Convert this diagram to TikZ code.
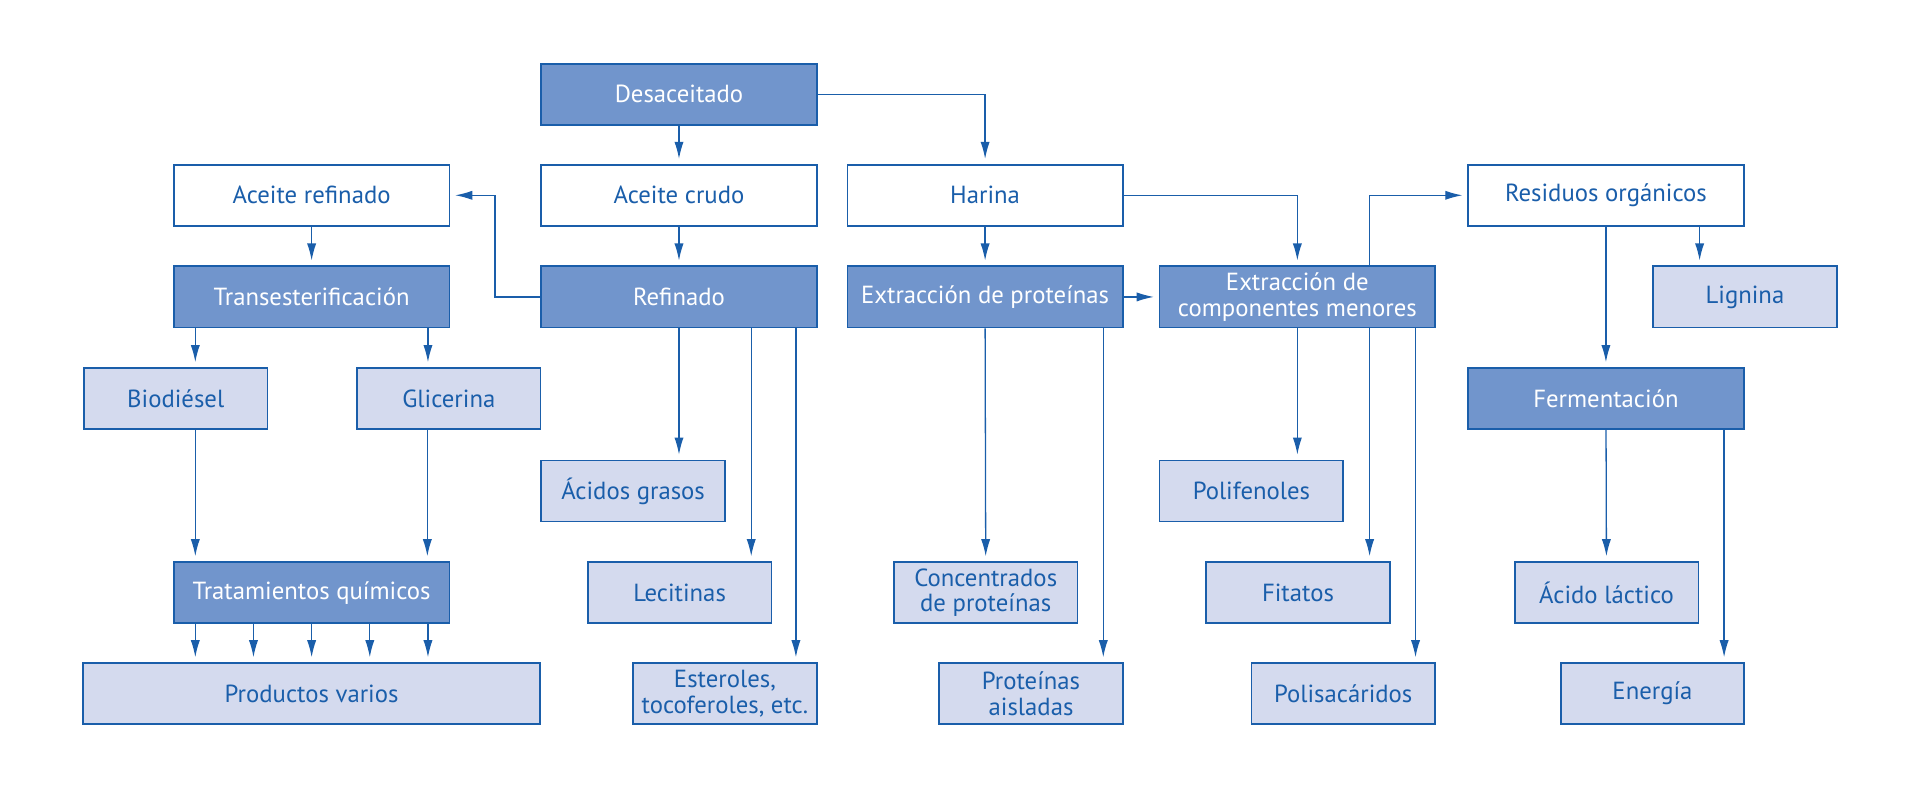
\documentclass[tikz,border=0pt]{standalone}
\usepackage{fontspec}
\setmainfont{PT Sans}
\usepackage{tikz}
\usetikzlibrary{arrows.meta, positioning, calc}
\definecolor{LineBlue}{HTML}{1A5EAA}
\definecolor{ProcBlue}{HTML}{7195CC}
\definecolor{ProdBlue}{HTML}{D4DAEE}
\tikzset{
  box/.style={draw=LineBlue, line width=0.8pt, minimum height=1cm, inner sep=2pt,
              align=center, font=\fontsize{11.5}{12}\selectfont},
  procbox/.style={box, fill=ProcBlue, text=white, minimum width=4.5cm},
  whitebox/.style={box, fill=white, text=LineBlue, minimum width=4.5cm},
  prodbox/.style={box, fill=ProdBlue, text=LineBlue, minimum width=3cm},
  arr/.style={draw=LineBlue, line width=0.6pt, shorten >=0.8mm,
              -{Latex[length=2.8mm,width=1.5mm]}}
}

\begin{document}
\begin{tikzpicture}
    \useasboundingbox (0,0) rectangle (31.36,-13.06);

    % Processes and intermediate products
    \node[procbox]  (desac)    at (11.09,-1.54) {Desaceitado};
    \node[whitebox] (arefin)   at (5.09,-3.19)  {Aceite refinado};
    \node[whitebox] (crudo)    at (11.09,-3.19) {Aceite crudo};
    \node[whitebox] (harina)   at (16.09,-3.19) {Harina};
    \node[whitebox] (residuos) at (26.23,-3.19) {Residuos orgánicos};
    \node[procbox]  (trans)    at (5.09,-4.85)  {Transesterificación};
    \node[procbox]  (refinado) at (11.09,-4.85) {Refinado};
    \node[procbox]  (extprot)  at (16.09,-4.85) {Extracción de proteínas};
    \node[procbox]  (extcomp)  at (21.19,-4.85) {Extracción de\\componentes menores};
    \node[procbox]  (ferment)  at (26.23,-6.51) {Fermentación};
    \node[procbox]  (tratam)   at (5.09,-9.68)  {Tratamientos químicos};

    % Final products
    \node[prodbox] (biodiesel) at (2.87,-6.51)  {Biodiésel};
    \node[prodbox] (glicerina) at (7.33,-6.51)  {Glicerina};
    \node[prodbox] (lignina)   at (28.5,-4.85)  {Lignina};
    \node[prodbox] (acidos)    at (10.34,-8.02) {Ácidos grasos};
    \node[prodbox] (polifen)   at (20.44,-8.02) {Polifenoles};
    \node[prodbox] (lecitinas) at (11.1,-9.68)  {Lecitinas};
    \node[prodbox] (concent)   at (16.1,-9.68)  {Concentrados\\de proteínas};
    \node[prodbox] (fitatos)   at (21.2,-9.68)  {Fitatos};
    \node[prodbox] (lactico)   at (26.24,-9.68) {Ácido láctico};
    \node[prodbox, minimum width=7.46cm] (productos) at (5.09,-11.33) {Productos varios};
    \node[prodbox] (esteroles) at (11.84,-11.33) {Esteroles,\\tocoferoles, etc.};
    \node[prodbox] (aisladas)  at (16.84,-11.33) {Proteínas\\aisladas};
    \node[prodbox] (polisac)   at (21.94,-11.33) {Polisacáridos};
    \node[prodbox] (energia)   at (26.99,-11.33) {Energía};

    % Oil branch
    \draw[arr] (desac) -- (crudo);
    \draw[arr] (desac.east) -| (harina);
    \draw[arr] (crudo) -- (refinado);
    \draw[arr] (refinado.west) -- ++(-0.74,0) |- (arefin.east);
    \draw[arr] (arefin) -- (trans);
    \draw[arr] ([xshift=-1.9cm]trans.south) -- ([xshift=-1.9cm]trans.south |- biodiesel.north);
    \draw[arr] ([xshift=1.9cm]trans.south) -- ([xshift=1.9cm]trans.south |- glicerina.north);
    \draw[arr] ([xshift=0.32cm]biodiesel.south) -- ([xshift=0.32cm]biodiesel.south |- tratam.north);
    \draw[arr] ([xshift=-0.35cm]glicerina.south) -- ([xshift=-0.35cm]glicerina.south |- tratam.north);
    \foreach \dx in {-1.9,-0.95,0,0.95,1.9}
        \draw[arr] ([xshift=\dx cm]tratam.south) -- ([xshift=\dx cm]tratam.south |- productos.north);
    \draw[arr] (refinado.south) -- (refinado.south |- acidos.north);
    \draw[arr] ([xshift=1.18cm]refinado.south) -- ([xshift=1.18cm]refinado.south |- lecitinas.north);
    \draw[arr] ([xshift=1.91cm]refinado.south) -- ([xshift=1.91cm]refinado.south |- esteroles.north);

    % Meal branch
    \draw[arr] (harina) -- (extprot);
    \draw[arr] (harina.east) -| (extcomp.north);
    \draw[arr] (extprot) -- (extcomp);
    \draw[arr] (extprot.south) -- (concent.north);
    \draw[arr] ([xshift=1.93cm]extprot.south) -- ([xshift=1.93cm]extprot.south |- aisladas.north);
    \draw[arr] (extcomp.south) -- (extcomp.south |- polifen.north);
    \draw[arr] ([xshift=1.18cm]extcomp.south) -- ([xshift=1.18cm]extcomp.south |- fitatos.north);
    \draw[arr] ([xshift=1.93cm]extcomp.south) -- ([xshift=1.93cm]extcomp.south |- polisac.north);
    \draw[arr] ([xshift=1.18cm]extcomp.north) |- (residuos.west);

    % Residues
    \draw[arr] (residuos) -- (ferment);
    \draw[arr] ([xshift=1.53cm]residuos.south) -- ([xshift=1.53cm]residuos.south |- lignina.north);
    \draw[arr] (ferment) -- (lactico);
    \draw[arr] ([xshift=1.93cm]ferment.south) -- ([xshift=1.93cm]ferment.south |- energia.north);
\end{tikzpicture}
\end{document}
